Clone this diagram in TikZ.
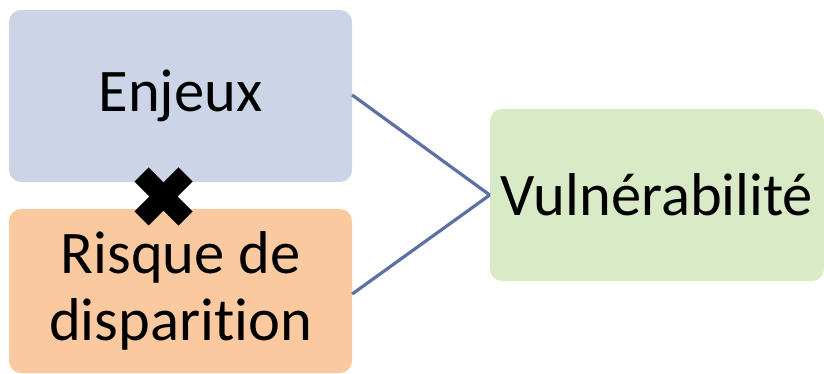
\documentclass[tikz,border=0pt]{standalone}
\usepackage{fontspec}
\setmainfont[Ligatures=NoCommon]{Carlito}
\definecolor{enjeuxfill}{HTML}{CCD5E8}
\definecolor{risquefill}{HTML}{FBC9A0}
\definecolor{vulnfill}{HTML}{D9EAC6}
\definecolor{linkcol}{HTML}{5E6FA6}
\begin{document}
\begin{tikzpicture}[x=1pt,y=-1pt,
  box/.style={rectangle, rounded corners=12pt, inner sep=0pt, align=center,
    font=\fontsize{60.5}{67}\selectfont},
  link/.style={draw=linkcol, line width=3.2pt}]
\useasboundingbox (0,0) rectangle (824,374);
\clip (0,0) rectangle (824,374);
% the three boxes
\node[box, fill=enjeuxfill, minimum width=343pt, minimum height=172pt] (enjeux) at (180.5,96) {Enjeux};
\node[box, fill=risquefill, minimum width=343pt, minimum height=164pt] (risque) at (180.5,291) {Risque de\\disparition};
\node[box, fill=vulnfill, minimum width=334pt, minimum height=172pt] (vuln) at (657,195) {Vulnérabilité};
% connectors
\draw[link] ([yshift=1pt]enjeux.east) -- (vuln.west);
\draw[link] ([yshift=-3pt]risque.east) -- (vuln.west);
% cross between the two left boxes
\coordinate (cross) at (163.5,196.5);
\draw[line width=20pt, line cap=butt] ([shift={(-22,-22)}]cross) -- ([shift={(22,22)}]cross);
\draw[line width=20pt, line cap=butt] ([shift={(22,-22)}]cross) -- ([shift={(-22,22)}]cross);
\end{tikzpicture}
\end{document}
